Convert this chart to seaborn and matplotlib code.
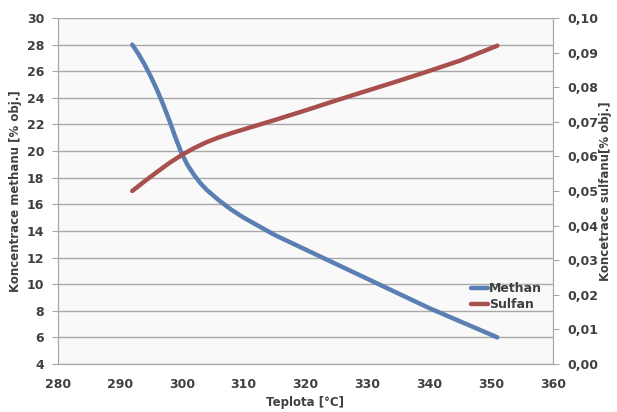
import matplotlib
matplotlib.use("Agg")
import matplotlib.pyplot as plt
import seaborn as sns
import pandas as pd

# data
teplota_m = [292, 293, 294, 295, 296, 297, 298, 299, 300, 301, 302, 303, 304, 306, 308, 310,
             315, 320, 325, 330, 335, 340, 345, 351]
methan = [28.0, 27.3, 26.5, 25.6, 24.6, 23.5, 22.3, 21.0, 19.8, 18.9, 18.2, 17.6, 17.1, 16.3, 15.6, 15.0,
          13.7, 12.6, 11.5, 10.4, 9.3, 8.2, 7.2, 6.0]
teplota_s = [292, 294, 296, 298, 300, 302, 304, 306, 308, 310, 315, 320, 325, 330, 335, 340, 345, 351]
sulfan = [0.0500, 0.0528, 0.0555, 0.0581, 0.0604, 0.0624, 0.0641, 0.0655, 0.0667, 0.0678,
          0.0705, 0.0733, 0.0762, 0.0790, 0.0818, 0.0847, 0.0877, 0.0920]

blue = "#5a7fb3"
red = "#a8504d"
txt = "#404040"

sns.set_style("white")
plt.rcParams["font.family"] = ["DejaVu Sans"]
plt.rcParams["font.weight"] = "bold"

fig = plt.figure(figsize=(6.17, 4.12), dpi=100)
fig.patch.set_facecolor("white")
ax = fig.add_axes([58 / 617, 1 - 364 / 412, (553 - 58) / 617, (364 - 18) / 412])
ax.set_facecolor("#f9f9f9")

df_m = pd.DataFrame({"t": teplota_m, "v": methan})
df_s = pd.DataFrame({"t": teplota_s, "v": sulfan})

sns.lineplot(data=df_m, x="t", y="v", ax=ax, color=blue, linewidth=3.2, label="Methan", legend=False)
ax2 = ax.twinx()
sns.lineplot(data=df_s, x="t", y="v", ax=ax2, color=red, linewidth=3.2, label="Sulfan", legend=False)

ax.set_xlim(280, 360)
ax.set_ylim(4, 30)
ax.set_xticks(range(280, 361, 10))
ax.set_yticks(range(4, 31, 2))
ax2.set_ylim(0, 0.10)
ax2.set_yticks([i / 100 for i in range(11)])
ax2.set_yticklabels([f"{i / 100:.2f}".replace(".", ",") for i in range(11)])

ax.grid(axis="y", color="#a8a8a8", linewidth=1)
ax.set_axisbelow(True)

for a in (ax, ax2):
    for s in a.spines.values():
        s.set_color("#a8a8a8")
    a.spines["top"].set_visible(False)
    a.tick_params(colors="#a8a8a8", labelcolor=txt, labelsize=9, length=4, direction="out")
ax.tick_params(axis="both", pad=6)
ax2.tick_params(axis="y", pad=6)
for lab in ax.get_xticklabels() + ax.get_yticklabels() + ax2.get_yticklabels():
    lab.set_fontweight("bold")

ax.set_xlabel("Teplota [°C]", fontsize=8.5, fontweight="bold", color=txt, labelpad=4)
ax.set_ylabel("Koncentrace methanu [% obj.]", fontsize=8.5, fontweight="bold", color=txt, labelpad=3)
ax2.set_ylabel("Koncetrace sulfanu[% obj.]", fontsize=8.5, fontweight="bold", color=txt, labelpad=1)

h1, l1 = ax.get_legend_handles_labels()
h2, l2 = ax2.get_legend_handles_labels()
leg = ax2.legend(h1 + h2, l1 + l2, loc="lower right", bbox_to_anchor=(1.0, 0.12), frameon=False,
                 handlelength=1.3, handletextpad=0.1, labelspacing=0.25, fontsize=9)
for t in leg.get_texts():
    t.set_color(txt)
    t.set_fontweight("bold")

fig.savefig("out.png", dpi=100)
